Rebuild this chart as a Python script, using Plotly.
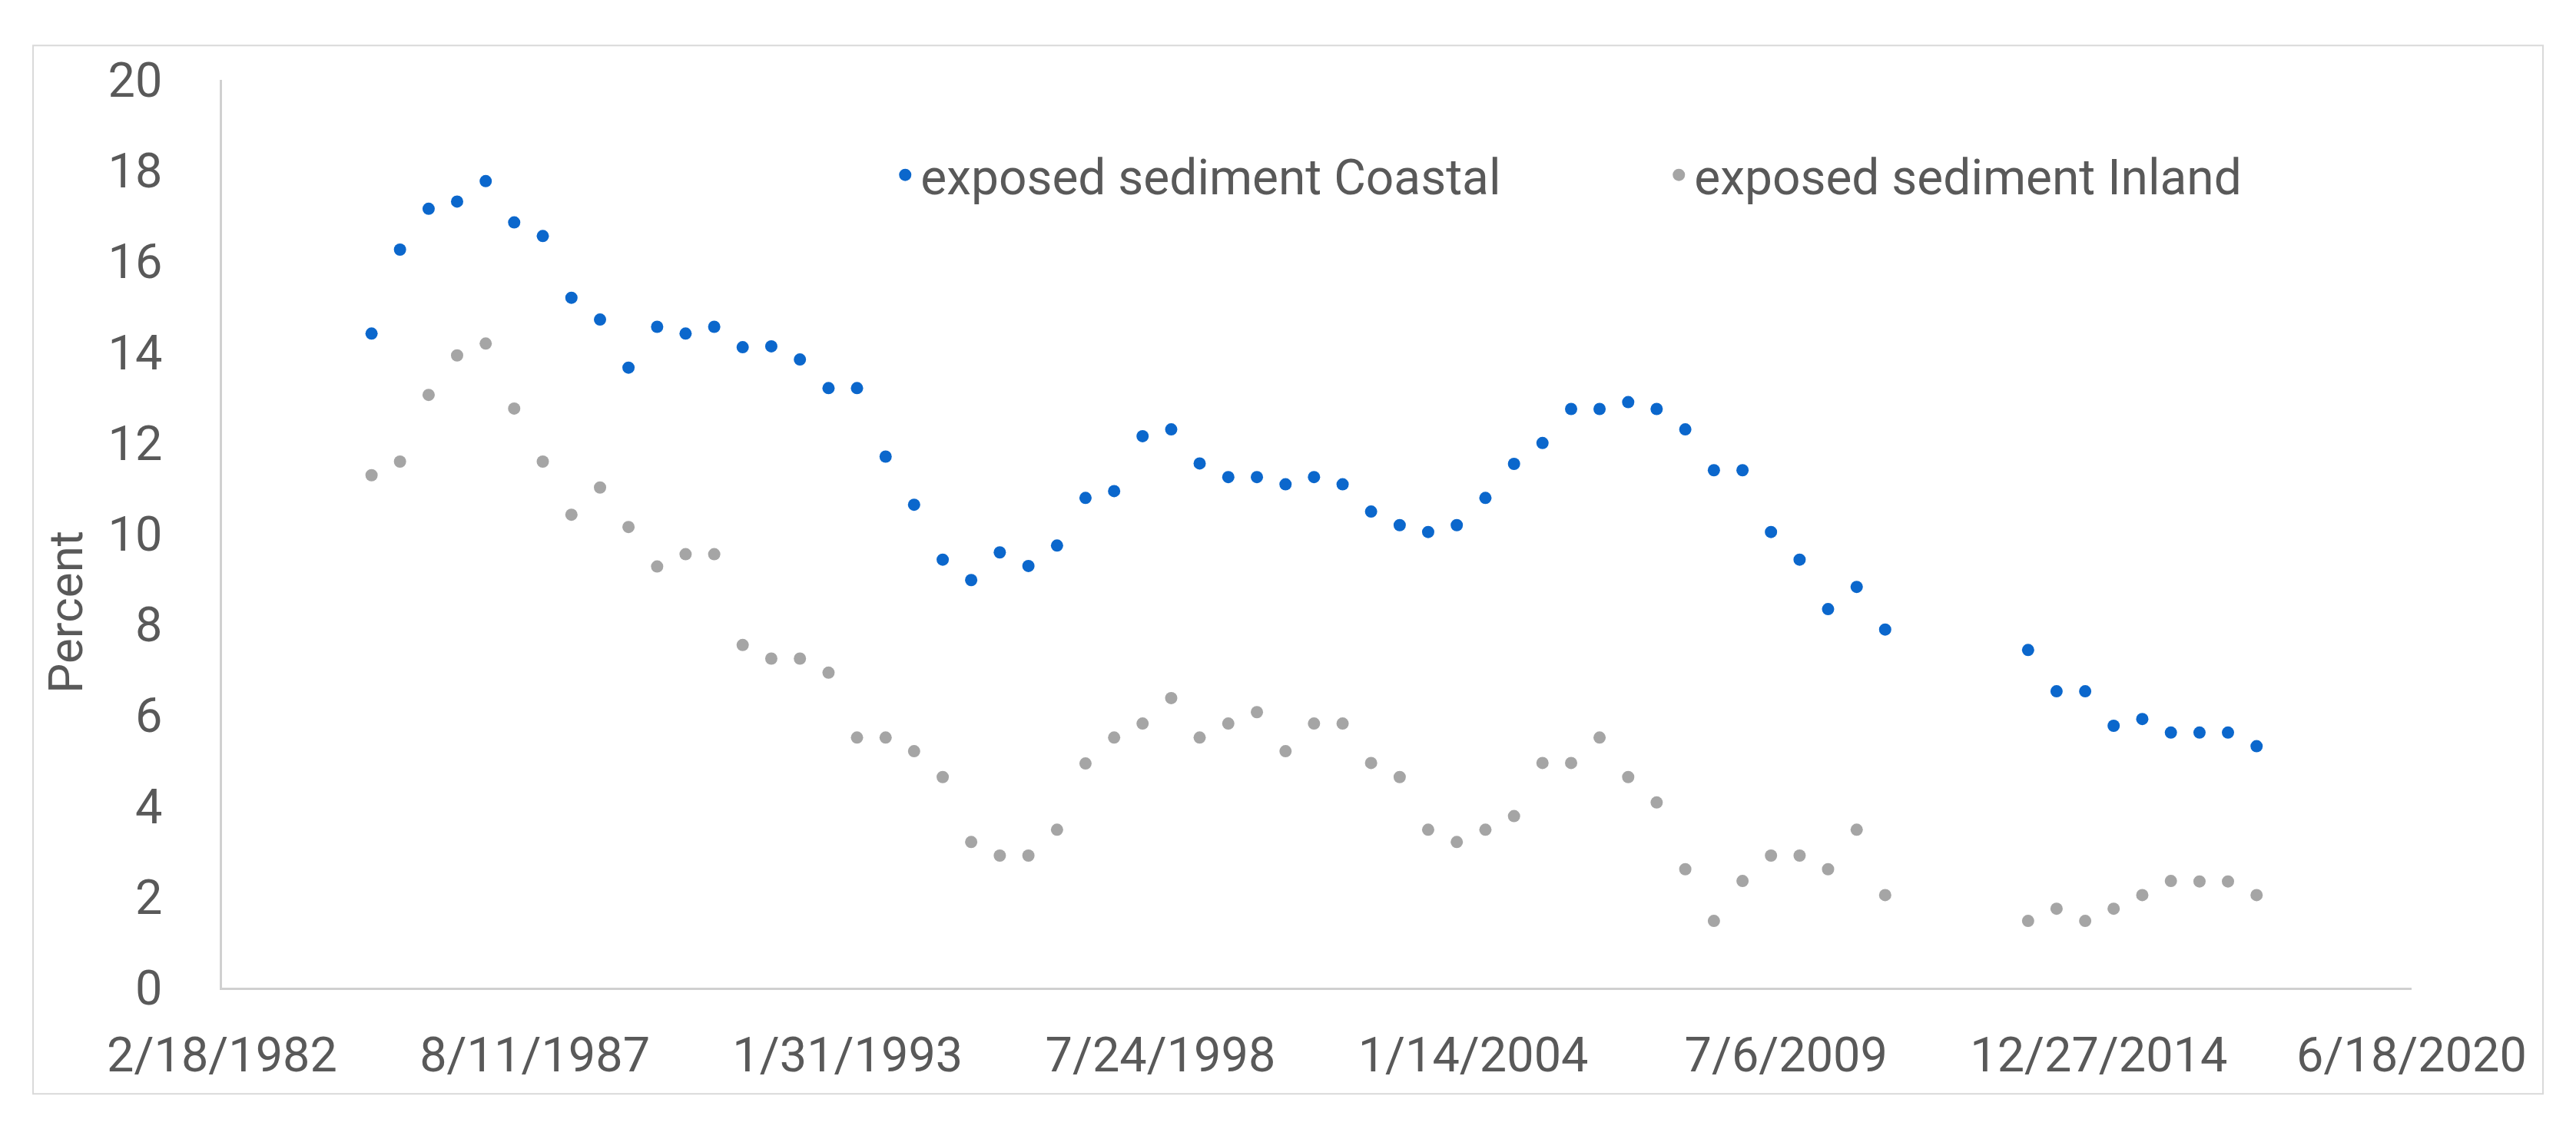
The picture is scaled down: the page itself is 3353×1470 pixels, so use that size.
import plotly.graph_objects as go

dates = ["1984-10-01", "1985-04-01", "1985-10-01", "1986-04-01", "1986-10-01", "1987-04-01",
         "1987-10-01", "1988-04-01", "1988-10-01", "1989-04-01", "1989-10-01", "1990-04-01",
         "1990-10-01", "1991-04-01", "1991-10-01", "1992-04-01", "1992-10-01", "1993-04-01",
         "1993-10-01", "1994-04-01", "1994-10-01", "1995-04-01", "1995-10-01", "1996-04-01",
         "1996-10-01", "1997-04-01", "1997-10-01", "1998-04-01", "1998-10-01", "1999-04-01",
         "1999-10-01", "2000-04-01", "2000-10-01", "2001-04-01", "2001-10-01", "2002-04-01",
         "2002-10-01", "2003-04-01", "2003-10-01", "2004-04-01", "2004-10-01", "2005-04-01",
         "2005-10-01", "2006-04-01", "2006-10-01", "2007-04-01", "2007-10-01", "2008-04-01",
         "2008-10-01", "2009-04-01", "2009-10-01", "2010-04-01", "2010-10-01", "2011-04-01",
         "2013-10-01", "2014-04-01", "2014-10-01", "2015-04-01", "2015-10-01", "2016-04-01",
         "2016-10-01", "2017-04-01", "2017-10-01"]

coastal = [14.41, 16.26, 17.16, 17.32, 17.77, 16.86, 16.56, 15.20, 14.72, 13.66, 14.56, 14.41,
           14.56, 14.11, 14.13, 13.84, 13.21, 13.21, 11.70, 10.64, 9.43, 8.98, 9.59, 9.29,
           9.74, 10.79, 10.94, 12.15, 12.30, 11.55, 11.25, 11.25, 11.09, 11.25, 11.09, 10.49,
           10.19, 10.04, 10.19, 10.79, 11.54, 12.00, 12.75, 12.75, 12.90, 12.75, 12.30, 11.40,
           11.40, 10.04, 9.43, 8.34, 8.83, 7.89,
           7.44, 6.53, 6.53, 5.77, 5.92, 5.62, 5.62, 5.62, 5.32]

inland = [11.29, 11.59, 13.06, 13.93, 14.19, 12.76, 11.59, 10.42, 11.02, 10.15, 9.28, 9.55,
          9.55, 7.55, 7.25, 7.25, 6.94, 5.51, 5.51, 5.21, 4.64, 3.21, 2.91, 2.91,
          3.48, 4.94, 5.51, 5.82, 6.38, 5.51, 5.82, 6.07, 5.21, 5.82, 5.82, 4.95,
          4.64, 3.48, 3.21, 3.48, 3.78, 4.95, 4.95, 5.51, 4.64, 4.08, 2.61, 1.47,
          2.35, 2.91, 2.91, 2.61, 3.48, 2.04,
          1.47, 1.74, 1.47, 1.74, 2.04, 2.35, 2.34, 2.34, 2.04]

x_tickvals = ["1982-02-18", "1987-08-11", "1993-01-31", "1998-07-24", "2004-01-14",
              "2009-07-06", "2014-12-27", "2020-06-18"]
x_ticktext = ["2/18/1982", "8/11/1987", "1/31/1993", "7/24/1998", "1/14/2004",
              "7/6/2009", "12/27/2014", "6/18/2020"]
y_tickvals = [0, 2, 4, 6, 8, 10, 12, 14, 16, 18, 20]
y_title = "Percent"

FONT = "Roboto"
TXT = "#595959"
AXC = "#d0d0d0"

fig = go.Figure()
fig.add_trace(go.Scatter(x=dates, y=coastal, mode="markers", name="exposed sediment Coastal",
                         marker=dict(color="#0b67cc", size=16)))
fig.add_trace(go.Scatter(x=dates, y=inland, mode="markers", name="exposed sediment Inland",
                         marker=dict(color="#a5a5a5", size=16)))

fig.update_layout(
    width=3353, height=1470,
    margin=dict(l=289, r=214, t=104, b=184),
    paper_bgcolor="white", plot_bgcolor="white",
    font=dict(family=FONT, size=63, color=TXT),
    showlegend=True,
    legend=dict(orientation="h", x=0.305, y=0.895, xanchor="left", yanchor="middle",
                font=dict(family=FONT, size=64, color=TXT),
                entrywidth=962, entrywidthmode="pixels",
                bgcolor="rgba(0,0,0,0)", itemclick=False),
    xaxis=dict(type="date", range=["1982-02-18", "2020-06-18"],
               tickvals=x_tickvals, ticktext=x_ticktext,
               showgrid=False, zeroline=False,
               showline=True, linecolor=AXC, linewidth=3,
               ticks="", ticklabelstandoff=30,
               tickfont=dict(family=FONT, size=63, color=TXT)),
    yaxis=dict(range=[0, 20], tickvals=y_tickvals,
               showgrid=False, zeroline=False,
               showline=True, linecolor=AXC, linewidth=3,
               ticks="", ticklabelstandoff=62,
               tickfont=dict(family=FONT, size=63, color=TXT)),
)

fig.add_annotation(text=y_title, xref="paper", yref="paper", x=-0.0712, y=0.414,
                   xanchor="center", yanchor="middle", textangle=-90, showarrow=False,
                   font=dict(family=FONT, size=62, color=TXT))

fig.add_shape(type="rect", xref="paper", yref="paper",
              x0=-0.0863, x1=1.06, y0=-0.117, y1=1.0378,
              line=dict(color="#d9d9d9", width=2), layer="below")

fig.write_html("out.html")
